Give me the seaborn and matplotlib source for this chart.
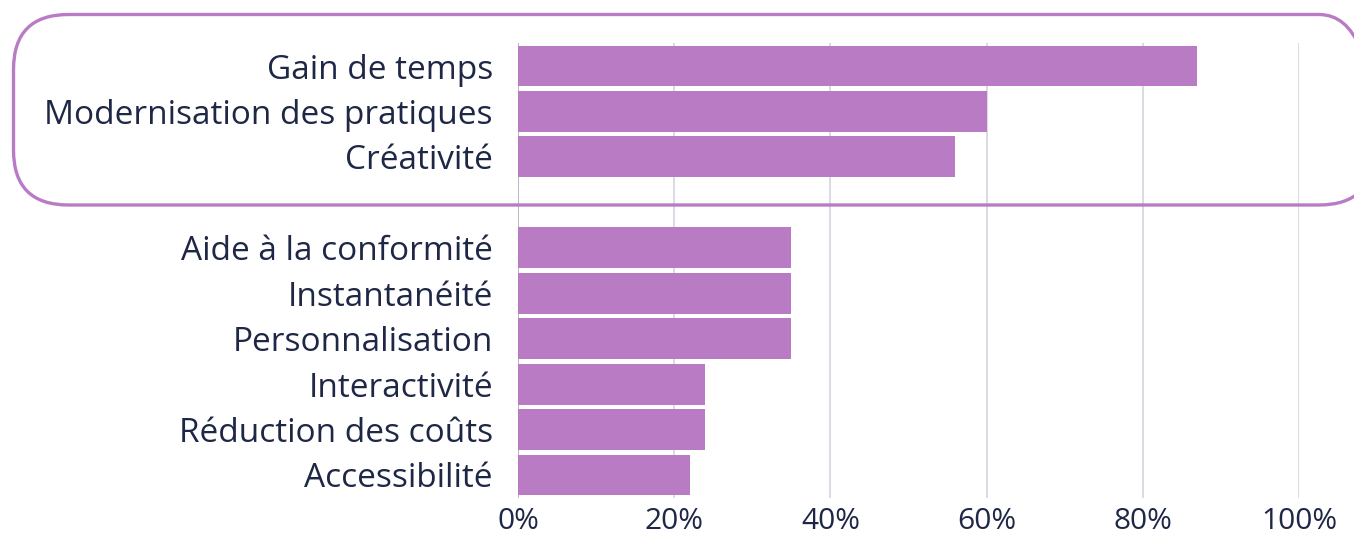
import matplotlib
matplotlib.use("Agg")
import matplotlib.pyplot as plt
from matplotlib.patches import FancyBboxPatch
import seaborn as sns
import pandas as pd

categories = ["Gain de temps", "Modernisation des pratiques", "Créativité",
              "Aide à la conformité", "Instantanéité", "Personnalisation",
              "Interactivité", "Réduction des coûts", "Accessibilité"]
values = [87, 60, 56, 35, 35, 35, 24, 24, 22]
xticks = [0, 20, 40, 60, 80, 100]
xtick_labels = ["0%", "20%", "40%", "60%", "80%", "100%"]

GAP = " "
order = categories[:3] + [GAP] + categories[3:]

BAR = "#B97CC4"
TEXT = "#1E2745"
GRID = "#D4D4DE"

sns.set_theme(style="white")
plt.rcParams["font.family"] = ["Open Sans", "DejaVu Sans"]

df = pd.DataFrame({"cat": categories, "val": values})

fig = plt.figure(figsize=(13.54, 5.37), dpi=100)
W, H = 1354, 537
ax = fig.add_axes([518 / W, 1 - 497.7 / H, (1299 - 518) / W, (497.7 - 43.3) / H])

for t in xticks:
    ax.axvline(t, color="#A9ABBA" if t == 0 else GRID, lw=1.2, zorder=0)

sns.barplot(data=df, x="val", y="cat", order=order, orient="h",
            color=BAR, saturation=1, width=0.9, ax=ax, zorder=2)
for p in ax.patches:
    p.set_edgecolor("none")

ax.set_xlim(0, 100)
ax.set_ylim(len(order) - 0.5, -0.5)
ax.set_xticks(xticks)
ax.set_xticklabels(xtick_labels)
ax.set_xlabel("")
ax.set_ylabel("")
ax.tick_params(axis="y", length=0, pad=18, labelsize=24, labelcolor=TEXT)
ax.tick_params(axis="x", length=0, pad=7, labelsize=21.5, labelcolor=TEXT)
for s in ax.spines.values():
    s.set_visible(False)

# highlight box around top three rows (display pixels)
box = FancyBboxPatch((13.5, H - 205), 1354 - 13.5 + 20, 205 - 14.5,
                     boxstyle="round,pad=0,rounding_size=55",
                     transform=None, fill=False, edgecolor=BAR, lw=2.4,
                     zorder=5, clip_on=False)
fig.patches.append(box)

fig.savefig("out.png", dpi=100)
